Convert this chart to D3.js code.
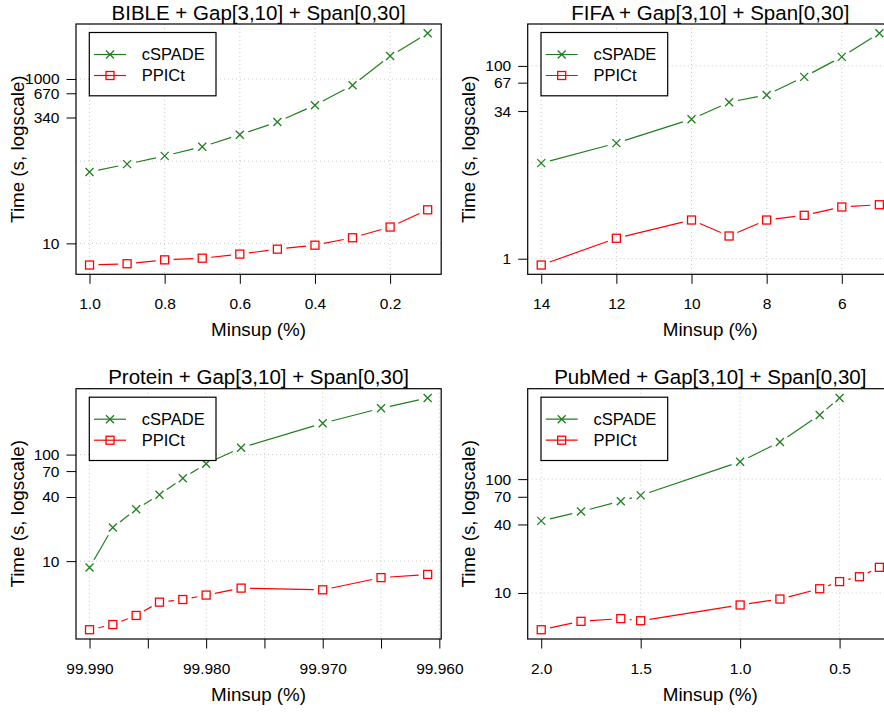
<!DOCTYPE html>
<html><head><meta charset="utf-8">
<script src="https://cdn.jsdelivr.net/npm/d3@7"></script>
<style>
html,body{margin:0;padding:0;background:#fff;}
svg{display:block;font-family:"Liberation Sans",Arial,Helvetica,sans-serif;}
</style></head>
<body><svg id="chart" width="884" height="713"></svg>
<script>
// ---------- data ----------
const seriesNames = ["cSPADE", "PPICt"];
const seriesColors = ["#1e7f1e", "#ff0000"];

const bibleTitle = "BIBLE + Gap[3,10] + Span[0,30]";
const bibleMinsup = [1.0, 0.9, 0.8, 0.7, 0.6, 0.5, 0.4, 0.3, 0.2, 0.1];
const bibleCSPADE = [74, 92, 116, 150, 210, 300, 480, 840, 1900, 3600];
const biblePPICt = [5.45, 5.65, 6.3, 6.6, 7.4, 8.5, 9.5, 11.7, 15.8, 25.6];
const bibleXTicks = [1.0, 0.8, 0.6, 0.4, 0.2];
const bibleXLabels = ["1.0", "0.8", "0.6", "0.4", "0.2"];
const bibleYTicks = [10, 340, 670, 1000];
const bibleYGrid = [10, 100, 1000];

const fifaTitle = "FIFA + Gap[3,10] + Span[0,30]";
const fifaMinsup = [14, 12, 10, 9, 8, 7, 6, 5];
const fifaCSPADE = [9.8, 15.8, 28, 42, 50, 77, 124, 218];
const fifaPPICt = [0.86, 1.63, 2.52, 1.72, 2.52, 2.82, 3.44, 3.63];
const fifaXTicks = [14, 12, 10, 8, 6];
const fifaXLabels = ["14", "12", "10", "8", "6"];
const fifaYTicks = [1, 34, 67, 100];
const fifaYGrid = [1, 10, 100];

const proteinTitle = "Protein + Gap[3,10] + Span[0,30]";
const proteinMinsup = [99.990, 99.988, 99.986, 99.984, 99.982, 99.980, 99.977, 99.970, 99.965, 99.961];
const proteinCSPADE = [8.7, 20.7, 30.7, 42, 60, 82, 116, 197, 272, 340];
const proteinPPICt = [2.27, 2.54, 3.09, 4.12, 4.36, 4.8, 5.58, 5.38, 7.0, 7.5];
const proteinXTicks = [99.990, 99.985, 99.980, 99.975, 99.970, 99.965, 99.960];
const proteinXLabels = ["99.990", "", "99.980", "", "99.970", "", "99.960"];
const proteinYTicks = [10, 40, 70, 100];
const proteinYGrid = [10, 100];

const pubmedTitle = "PubMed + Gap[3,10] + Span[0,30]";
const pubmedMinsupC = [2.0, 1.8, 1.6, 1.5, 1.0, 0.8, 0.6, 0.5];
const pubmedCSPADE = [43, 52, 64, 72, 142, 212, 366, 516];
const pubmedMinsupP = [2.0, 1.8, 1.6, 1.5, 1.0, 0.8, 0.6, 0.5, 0.4, 0.3];
const pubmedPPICt = [4.76, 5.64, 5.96, 5.71, 7.85, 8.85, 10.9, 12.6, 13.9, 16.8];
const pubmedXTicks = [2.0, 1.5, 1.0, 0.5];
const pubmedXLabels = ["2.0", "1.5", "1.0", "0.5"];
const pubmedYTicks = [10, 40, 70, 100];
const pubmedYGrid = [10, 100];

const xTitle = "Minsup (%)";
const yTitle = "Time (s, logscale)";

// ---------- layout ----------
const panels = [
  {ox: 0, oy: 0, title: bibleTitle, xs: [bibleMinsup, bibleMinsup], ys: [bibleCSPADE, biblePPICt],
   xTicks: bibleXTicks, xLabels: bibleXLabels, yTicks: bibleYTicks, yGrid: bibleYGrid},
  {ox: 451.7, oy: 0, title: fifaTitle, xs: [fifaMinsup, fifaMinsup], ys: [fifaCSPADE, fifaPPICt],
   xTicks: fifaXTicks, xLabels: fifaXLabels, yTicks: fifaYTicks, yGrid: fifaYGrid},
  {ox: 0, oy: 364.7, title: proteinTitle, xs: [proteinMinsup, proteinMinsup], ys: [proteinCSPADE, proteinPPICt],
   xTicks: proteinXTicks, xLabels: proteinXLabels, yTicks: proteinYTicks, yGrid: proteinYGrid},
  {ox: 451.7, oy: 364.7, title: pubmedTitle, xs: [pubmedMinsupC, pubmedMinsupP], ys: [pubmedCSPADE, pubmedPPICt],
   xTicks: pubmedXTicks, xLabels: pubmedXLabels, yTicks: pubmedYTicks, yGrid: pubmedYGrid}
];

const boxL = 76, boxR = 441.2, boxT = 24, boxB = 274.3;
const svg = d3.select("#chart");
const GAP = 9;

panels.forEach(p => {
  const g = svg.append("g").attr("transform", `translate(${p.ox},${p.oy})`);
  const allX = p.xs.flat(), allY = p.ys.flat();
  const xmin = d3.min(allX), xmax = d3.max(allX), xr = xmax - xmin;
  const lmin = Math.log10(d3.min(allY)), lmax = Math.log10(d3.max(allY)), lr = lmax - lmin;
  const x = d3.scaleLinear().domain([xmax + 0.04 * xr, xmin - 0.04 * xr]).range([boxL, boxR]);
  const y = d3.scaleLog().domain([Math.pow(10, lmin - 0.04 * lr), Math.pow(10, lmax + 0.04 * lr)]).range([boxB, boxT]);

  // grid
  g.selectAll(".hg").data(p.yGrid).enter().append("line")
    .attr("x1", boxL).attr("x2", boxR).attr("y1", d => y(d)).attr("y2", d => y(d))
    .attr("stroke", "#c8c8c8").attr("stroke-width", 1).attr("stroke-dasharray", "1,3");
  g.selectAll(".vg").data(p.xTicks).enter().append("line")
    .attr("y1", boxT).attr("y2", boxB).attr("x1", d => x(d)).attr("x2", d => x(d))
    .attr("stroke", "#c8c8c8").attr("stroke-width", 1).attr("stroke-dasharray", "1,3");

  // axes
  const xAxis = d3.axisBottom(x).tickValues(p.xTicks).tickSize(9.5).tickPadding(8)
    .tickFormat((d, i) => p.xLabels[i]);
  const xa = g.append("g").attr("transform", `translate(0,${boxB})`).call(xAxis);
  xa.select(".domain").remove();
  xa.selectAll("text").attr("font-size", 15.5).attr("fill", "#000").attr("font-family", null)
    .attr("dy", null).attr("y", 34.5);
  xa.selectAll("line").attr("stroke", "#000");

  const yAxis = d3.axisLeft(y).tickValues(p.yTicks).tickSize(9.5).tickPadding(7)
    .tickFormat(d3.format("d"));
  const ya = g.append("g").attr("transform", `translate(${boxL},0)`).call(yAxis);
  ya.select(".domain").remove();
  ya.selectAll("text").attr("font-size", 15.5).attr("fill", "#000").attr("font-family", null);
  ya.selectAll("line").attr("stroke", "#000");

  // box
  g.append("rect").attr("x", boxL).attr("y", boxT).attr("width", boxR - boxL).attr("height", boxB - boxT)
    .attr("fill", "none").attr("stroke", "#000").attr("stroke-width", 1.2);

  // series
  p.ys.forEach((vals, si) => {
    const pts = vals.map((v, i) => [x(p.xs[si][i]), y(v)]);
    const col = seriesColors[si];
    const segs = [];
    for (let i = 0; i < pts.length - 1; i++) {
      const [x1, y1] = pts[i], [x2, y2] = pts[i + 1];
      const dx = x2 - x1, dy = y2 - y1, L = Math.hypot(dx, dy);
      if (L > 2 * GAP) segs.push([x1 + dx / L * GAP, y1 + dy / L * GAP, x2 - dx / L * GAP, y2 - dy / L * GAP]);
    }
    g.selectAll(null).data(segs).enter().append("line")
      .attr("x1", d => d[0]).attr("y1", d => d[1]).attr("x2", d => d[2]).attr("y2", d => d[3])
      .attr("stroke", col).attr("stroke-width", 1.2);
    drawMarkers(g, pts, si, col);
  });

  // legend
  const lg = g.append("g");
  lg.append("rect").attr("x", boxL + 13.3).attr("y", 32.5).attr("width", 126.7).attr("height", 63.3)
    .attr("fill", "#fff").attr("stroke", "#000").attr("stroke-width", 1.2);
  seriesNames.forEach((nm, si) => {
    const ly = si === 0 ? 54.5 : 75.5;
    lg.append("line").attr("x1", boxL + 18).attr("x2", boxL + 50).attr("y1", ly).attr("y2", ly)
      .attr("stroke", seriesColors[si]).attr("stroke-width", 1.2);
    drawMarkers(lg, [[boxL + 34, ly]], si, seriesColors[si]);
    lg.append("text").attr("x", boxL + 65.7).attr("y", ly).attr("dy", "0.36em")
      .attr("font-size", 16.5).text(nm);
  });

  // titles
  g.append("text").attr("x", (boxL + boxR) / 2).attr("y", 19.5).attr("text-anchor", "middle")
    .attr("font-size", 20.5).text(p.title);
  g.append("text").attr("x", (boxL + boxR) / 2).attr("y", 336).attr("text-anchor", "middle")
    .attr("font-size", 18.8).text(xTitle);
  g.append("text").attr("transform", `translate(23.5,${(boxT + boxB) / 2}) rotate(-90)`)
    .attr("text-anchor", "middle").attr("font-size", 18.8).text(yTitle);
});

function drawMarkers(g, pts, si, col) {
  const r = 4;
  if (si === 0) {
    g.selectAll(null).data(pts).enter().append("path")
      .attr("d", d => `M${d[0] - r},${d[1] - r}L${d[0] + r},${d[1] + r}M${d[0] - r},${d[1] + r}L${d[0] + r},${d[1] - r}`)
      .attr("stroke", col).attr("stroke-width", 1.3).attr("fill", "none");
  } else {
    g.selectAll(null).data(pts).enter().append("rect")
      .attr("x", d => d[0] - r).attr("y", d => d[1] - r).attr("width", 2 * r).attr("height", 2 * r)
      .attr("stroke", col).attr("stroke-width", 1.3).attr("fill", "none");
  }
}
</script></body></html>
